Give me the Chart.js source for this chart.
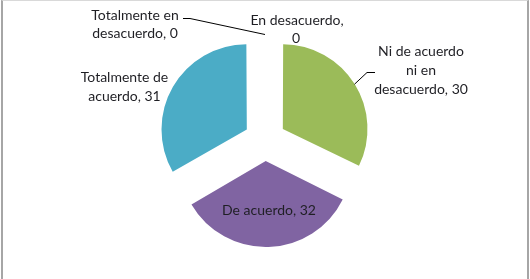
<!DOCTYPE html>
<html>
<head>
<meta charset="utf-8">
<script src="https://cdn.jsdelivr.net/npm/chart.js@4/dist/chart.umd.min.js"></script>
<style>
  html, body { margin: 0; padding: 0; background: #fff; }
  #wrap { position: relative; width: 530px; height: 279px; }
  #c { position: absolute; left: 0; top: 0; }
  #frame { position: absolute; left: 1px; top: 0; width: 524px; height: 290px;
           border-left: 2px solid #a6a6a6; border-right: 2px solid #a6a6a6;
           border-top: 1px solid #d9d9d9; pointer-events: none; }
</style>
</head>
<body>
<div id="wrap">
  <canvas id="c" width="530" height="279"></canvas>
  <div id="frame"></div>
</div>
<script>
// Data
const categories = ["Totalmente en desacuerdo", "En desacuerdo", "Ni de acuerdo ni en desacuerdo", "De acuerdo", "Totalmente de acuerdo"];
const values = [0, 0, 30, 32, 31];
const colors = ["#4F81BD", "#C0504D", "#9BBB59", "#8064A2", "#4BACC6"];
// Label text lines
const labelLines = [
  ["Totalmente en", "desacuerdo, 0"],
  ["En desacuerdo,", "0"],
  ["Ni de acuerdo", "ni en", "desacuerdo, 30"],
  ["De acuerdo, 32"],
  ["Totalmente de", "acuerdo, 31"]
];

const explode = 21;            // desired pixel shift of each slice
const arcOffset = explode * 4; // Chart.js divides arc offset by 4 when drawing

const labelPos = [
  {x: 135, y: 15, lh: 18.3, dx: [0, 0]},
  {x: 297, y: 20, lh: 18.3, dx: [0, -1]},
  {x: 421, y: 51.7, lh: 18.8, dx: [0, 0, 0]},
  {x: 269, y: 210.7, lh: 18, dx: [0]},
  {x: 124.5, y: 77.3, lh: 18.7, dx: [0, 0]}
];

const labelPlugin = {
  id: 'labels',
  afterDatasetsDraw(chart) {
    const ctx = chart.ctx;
    const meta = chart.getDatasetMeta(0);
    ctx.save();
    ctx.font = '14px Lato';
    ctx.fillStyle = '#1f1f24';
    ctx.textAlign = 'center';
    ctx.textBaseline = 'middle';
    labelLines.forEach((lines, i) => {
      const p = labelPos[i];
      lines.forEach((t, k) => ctx.fillText(t, p.x + p.dx[k], p.y + k * p.lh));
    });
    ctx.strokeStyle = '#000';
    ctx.lineWidth = 1;
    const a0 = meta.data[0];
    const mid0 = (a0.startAngle + a0.endAngle) / 2;
    const ex = a0.x + Math.cos(mid0) * (a0.outerRadius + explode + 2);
    const ey = a0.y + Math.sin(mid0) * (a0.outerRadius + explode + 2);
    ctx.beginPath();
    ctx.moveTo(183, 18.5);
    ctx.lineTo(190, 18.5);
    ctx.lineTo(ex, ey);
    ctx.stroke();
    const a2 = meta.data[2];
    const mid2 = (a2.startAngle + a2.endAngle) / 2;
    const gx = a2.x + Math.cos(mid2) * (a2.outerRadius + explode + 2);
    const gy = a2.y + Math.sin(mid2) * (a2.outerRadius + explode + 2);
    ctx.beginPath();
    ctx.moveTo(gx, gy);
    ctx.lineTo(367, 72.5);
    ctx.lineTo(375, 72.5);
    ctx.stroke();
    ctx.restore();
  }
};

new Chart(document.getElementById('c'), {
  type: 'pie',
  data: {
    labels: categories,
    datasets: [{
      data: values,
      backgroundColor: colors,
      borderWidth: 0,
      offset: arcOffset,
      radius: 82.5
    }]
  },
  options: {
    responsive: false,
    animation: false,
    rotation: 0,
    layout: { padding: { left: 0, right: 0, top: 1, bottom: 0 } },
    plugins: { legend: { display: false }, tooltip: { enabled: false } }
  },
  plugins: [labelPlugin]
});
</script>
</body>
</html>
